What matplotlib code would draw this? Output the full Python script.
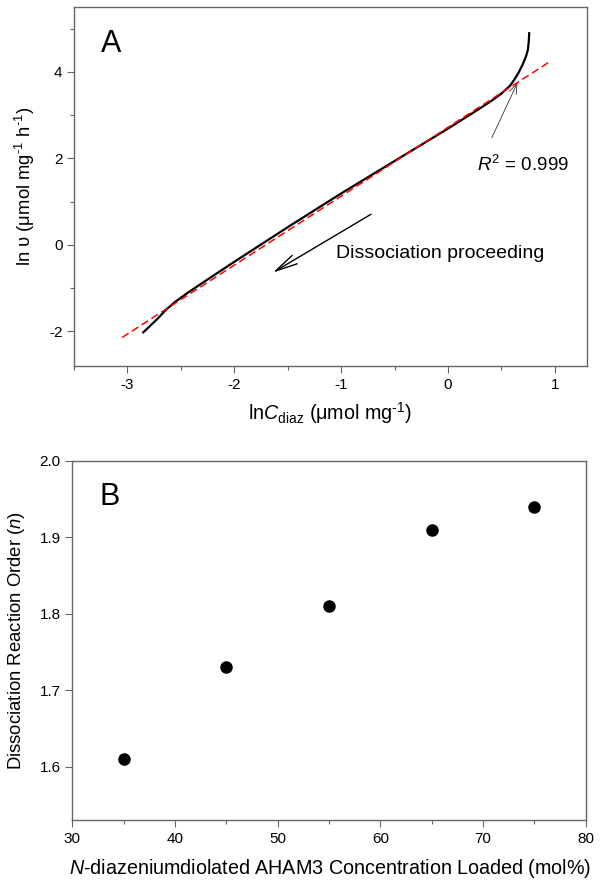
import numpy as np
import matplotlib
matplotlib.use('Agg')
import matplotlib.pyplot as plt
from matplotlib.ticker import MultipleLocator, FormatStrFormatter

plt.rcParams['font.family'] = ['Liberation Sans', 'DejaVu Sans']
plt.rcParams['mathtext.fontset'] = 'custom'
plt.rcParams['mathtext.rm'] = 'Liberation Sans'
plt.rcParams['mathtext.it'] = 'Liberation Sans:italic'
plt.rcParams['axes.unicode_minus'] = False

# ---------- panel A data: ln v vs ln C ----------
lnC = [-2.86, -2.80, -2.72, -2.64, -2.55, -2.45, -2.3, -2.0, -1.5, -1.0,
       -0.5, 0.0, 0.25, 0.4, 0.5, 0.58, 0.62, 0.66, 0.70, 0.73, 0.748, 0.756, 0.76]
lnv = [-2.04, -1.90, -1.71, -1.50, -1.31, -1.13, -0.88, -0.39, 0.41, 1.19,
       1.94, 2.69, 3.08, 3.32, 3.50, 3.68, 3.82, 3.98, 4.18, 4.36, 4.52, 4.72, 4.92]
fit_x = [-3.05, 0.96]
fit_y = [-2.14, 4.25]

# ---------- panel B data: reaction order ----------
loading = [35, 45, 55, 65, 75]
order_n = [1.61, 1.73, 1.81, 1.91, 1.94]

spine_col = '#666666'
tick_fs = 11
xlabel_fs = 14.2
ylabel_fs = 13.3

fig = plt.figure(figsize=(6.02, 8.88), dpi=100)
axA = fig.add_axes([0.123, 0.5878, 0.852, 0.4043])
axB = fig.add_axes([0.120, 0.0766, 0.853, 0.4043])


def style(ax):
    for s in ax.spines.values():
        s.set_color(spine_col)
        s.set_linewidth(1.0)
    ax.tick_params(which='both', direction='out', top=False, right=False,
                   color=spine_col, labelsize=tick_fs, labelcolor='black', pad=3.5)
    ax.tick_params(which='major', length=4.8, width=0.8)
    ax.tick_params(which='minor', length=2.8, width=0.8)


# panel A
axA.plot(lnC, lnv, color='black', lw=1.6, solid_capstyle='butt', zorder=3)
axA.plot(fit_x, fit_y, color='#ff0000', lw=1.1, linestyle=(0, (5, 2.6)), zorder=4)
axA.set_xlim(-3.5, 1.3)
axA.set_ylim(-2.8, 5.5)
axA.xaxis.set_major_locator(MultipleLocator(1))
axA.xaxis.set_minor_locator(MultipleLocator(0.5))
axA.yaxis.set_major_locator(MultipleLocator(2))
axA.yaxis.set_minor_locator(MultipleLocator(1))
style(axA)
axA.set_xlabel(r'ln$\mathit{C}_{\mathrm{diaz}}$ ($\mathrm{\mu}$mol mg$^{\text{-1}}$)',
               fontsize=xlabel_fs, va='center')
axA.xaxis.set_label_coords(0.5, -0.131)
axA.set_ylabel(r'ln υ ($\mathrm{\mu}$mol mg$^{\text{-1}}$ h$^{\text{-1}}$)',
               fontsize=ylabel_fs, va='center')
axA.yaxis.set_label_coords(-0.0965, 0.5)
axA.text(-3.25, 4.64, 'A', fontsize=22, va='center', ha='left')
axA.text(0.27, 1.86, r'$R^2$ = 0.999', fontsize=13.5, va='center', ha='left')
axA.annotate('', xy=(0.65, 3.75), xytext=(0.41, 2.48),
             arrowprops=dict(arrowstyle='->,head_length=0.8,head_width=0.3',
                             mutation_scale=9, lw=0.6, color='#333333',
                             shrinkA=0, shrinkB=0))
axA.annotate('', xy=(-1.64, -0.64), xytext=(-0.72, 0.71),
             arrowprops=dict(arrowstyle='->,head_length=1.0,head_width=0.22',
                             mutation_scale=16, lw=1.0, color='black',
                             shrinkA=0, shrinkB=0))
axA.text(-1.05, -0.2, 'Dissociation proceeding', fontsize=14, va='center', ha='left')

# panel B
axB.plot(loading, order_n, 'o', color='black', markersize=8, zorder=3)
axB.set_xlim(30, 80)
axB.set_ylim(1.53, 2.0)
axB.xaxis.set_major_locator(MultipleLocator(10))
axB.xaxis.set_minor_locator(MultipleLocator(5))
axB.yaxis.set_major_locator(MultipleLocator(0.1))
axB.yaxis.set_major_formatter(FormatStrFormatter('%.1f'))
style(axB)
axB.set_xlabel(r'$\mathit{N}$-diazeniumdiolated AHAM3 Concentration Loaded (mol%)',
               fontsize=xlabel_fs, va='center')
axB.xaxis.set_label_coords(0.502, -0.134)
axB.set_ylabel(r'Dissociation Reaction Order ($\mathit{n}$)', fontsize=ylabel_fs, va='center')
axB.yaxis.set_label_coords(-0.109, 0.5)
axB.text(32.7, 1.953, 'B', fontsize=22, va='center', ha='left')

fig.savefig('out.png', dpi=100)
